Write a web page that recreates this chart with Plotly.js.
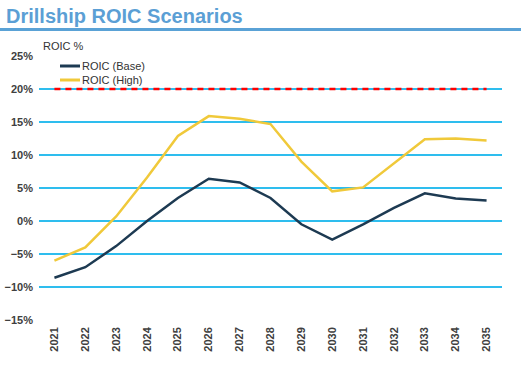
<!DOCTYPE html>
<html>
<head>
<meta charset="utf-8">
<script src="https://cdn.plot.ly/plotly-3.0.1.min.js"></script>
<style>html,body{margin:0;padding:0;background:#fff;}#chart{width:521px;height:372px;}</style>
</head>
<body>
<div id="chart"></div>
<script>
const years = ['2021','2022','2023','2024','2025','2026','2027','2028','2029','2030','2031','2032','2033','2034','2035'];
const roicBase = [-8.6, -7.0, -3.8, 0.0, 3.5, 6.4, 5.85, 3.5, -0.5, -2.8, -0.5, 2.0, 4.2, 3.4, 3.1];
const roicHigh = [-6.0, -4.0, 0.7, 6.6, 12.9, 15.9, 15.5, 14.7, 9.0, 4.5, 5.1, 8.75, 12.4, 12.5, 12.2];
const target = [20, 20, 20, 20, 20, 20, 20, 20, 20, 20, 20, 20, 20, 20, 20];
const seriesNames = ['ROIC (Base)', 'ROIC (High)'];
const seriesColors = ['#1d3a52', '#f0c93a'];

const font = 'Arial, "Liberation Sans", sans-serif';
const W = 463, H = 264, L = 39, T = 56;
const px = v => (v - L) / W;
const py = v => 1 - (v - T) / H;

const traces = [
  {x: years, y: roicBase, name: seriesNames[0], type: 'scatter', mode: 'lines',
   line: {color: seriesColors[0], width: 2.5}},
  {x: years, y: roicHigh, name: seriesNames[1], type: 'scatter', mode: 'lines',
   line: {color: seriesColors[1], width: 2.5}},
  {x: years, y: target, name: 'Target', type: 'scatter', mode: 'lines',
   line: {color: '#ff0000', width: 2.5, dash: '6px,5px'}}
];

const legendY = [66, 80];
const shapes = [
  {type: 'line', xref: 'paper', yref: 'paper', x0: px(0), x1: px(521),
   y0: py(29.5), y1: py(29.5), line: {color: '#5aa2d6', width: 3}}
];
const annotations = [
  {text: 'Drillship ROIC Scenarios', xref: 'paper', yref: 'paper', x: px(4), y: py(16),
   xanchor: 'left', yanchor: 'middle', showarrow: false,
   font: {family: font, size: 20, color: '#5b9fd5', weight: 'bold'}},
  {text: 'ROIC %', xref: 'paper', yref: 'paper', x: px(41), y: py(46),
   xanchor: 'left', yanchor: 'middle', showarrow: false,
   font: {family: font, size: 11, color: '#333333'}}
];
seriesNames.forEach((n, i) => {
  shapes.push({type: 'line', xref: 'paper', yref: 'paper', x0: px(60), x1: px(80),
    y0: py(legendY[i]), y1: py(legendY[i]), line: {color: seriesColors[i], width: 3}});
  annotations.push({text: n, xref: 'paper', yref: 'paper', x: px(80), y: py(legendY[i]),
    xanchor: 'left', yanchor: 'middle', showarrow: false,
    font: {family: font, size: 11, color: '#333333'}});
});

const layout = {
  width: 521, height: 372,
  margin: {l: L, r: 521 - L - W, t: T, b: 372 - T - H},
  paper_bgcolor: '#ffffff', plot_bgcolor: '#ffffff',
  font: {family: font, color: '#404040', size: 11},
  showlegend: false,
  xaxis: {type: 'category', range: [-0.5, 14.5], tickangle: -90, showgrid: false, zeroline: false, showline: false,
          ticks: '', tickfont: {family: font, size: 11, color: '#404040', weight: 'bold'}, ticklabelstandoff: 4},
  yaxis: {range: [-15, 25.01], dtick: 5, tick0: 0, ticksuffix: '%', showgrid: true, gridcolor: '#2ebdee', gridwidth: 1.5,
          zeroline: false, showline: false, ticks: '',
          tickfont: {family: font, size: 11, color: '#404040', weight: 'bold'}, ticklabelstandoff: 5},
  annotations: annotations,
  shapes: shapes
};

Plotly.newPlot('chart', traces, layout, {displayModeBar: false, staticPlot: true});
</script>
</body>
</html>
